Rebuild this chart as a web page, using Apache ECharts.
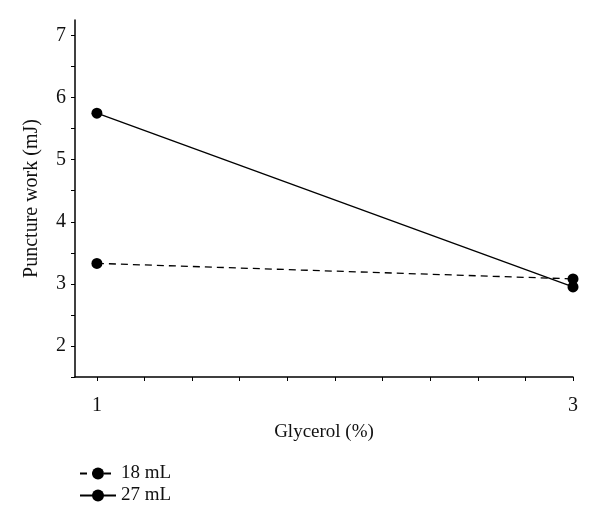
<!DOCTYPE html>
<html>
<head>
<meta charset="utf-8">
<script src="https://cdn.jsdelivr.net/npm/echarts@6/dist/echarts.min.js"></script>
<style>
  html, body { margin: 0; padding: 0; background: #fff; }
  #chart { width: 600px; height: 529px; }
</style>
</head>
<body>
<div id="chart"></div>
<script>
// data
const glycerol = [1, 3];
const ml18 = [3.33, 3.08];
const ml27 = [5.75, 2.95];

const xTicks = [1, 1.2, 1.4, 1.6, 1.8, 2, 2.2, 2.4, 2.6, 2.8, 3];
const xLabels = [1, 3];
const yTicks = [1.5, 2, 2.5, 3, 3.5, 4, 4.5, 5, 5.5, 6, 6.5, 7];
const yLabels = [2, 3, 4, 5, 6, 7];

const font = "'Liberation Serif', 'DejaVu Serif', serif";

const chart = echarts.init(document.getElementById("chart"));

const pairs = (ys) => glycerol.map((x, i) => [x, ys[i]]);

const option = {
  backgroundColor: "#fff",
  animation: false,
  grid: { left: 75, right: 27, top: 20, bottom: 152 },
  legend: {
    orient: "vertical",
    left: 74,
    top: 459,
    itemWidth: 36,
    itemHeight: 15,
    itemGap: 3,
    textStyle: { fontFamily: font, fontSize: 19, color: "#111" },
    data: ["18 mL", "27 mL"],
  },
  xAxis: {
    type: "value",
    min: 0.908,
    max: 3,
    name: "Glycerol (%)",
    nameLocation: "middle",
    nameGap: 46,
    nameTextStyle: { fontFamily: font, fontSize: 19, color: "#111" },
    axisLine: { lineStyle: { color: "#000", width: 1.5 } },
    axisTick: { show: true, length: 4, customValues: xTicks, lineStyle: { color: "#000" } },
    axisLabel: {
      customValues: xLabels,
      margin: 19,
      fontFamily: font,
      fontSize: 20,
      color: "#111",
    },
    splitLine: { show: false },
  },
  yAxis: {
    type: "value",
    min: 1.5,
    max: 7.25,
    name: "Puncture work (mJ)",
    nameLocation: "middle",
    nameGap: 33,
    nameTextStyle: { fontFamily: font, fontSize: 20, color: "#111" },
    axisLine: { show: true, lineStyle: { color: "#000", width: 1.5 } },
    axisTick: { show: true, length: 4, customValues: yTicks, lineStyle: { color: "#000" } },
    axisLabel: {
      customValues: yLabels,
      margin: 9,
      fontFamily: font,
      fontSize: 20,
      color: "#111",
    },
    splitLine: { show: false },
  },
  series: [
    {
      name: "18 mL",
      type: "line",
      data: pairs(ml18),
      symbol: "circle",
      symbolSize: 11,
      lineStyle: { color: "#000", width: 1.3, type: [7, 5] },
      itemStyle: { color: "#000" },
    },
    {
      name: "27 mL",
      type: "line",
      data: pairs(ml27),
      symbol: "circle",
      symbolSize: 11,
      lineStyle: { color: "#000", width: 1.3 },
      itemStyle: { color: "#000" },
    },
  ],
};

chart.setOption(option);
window.addEventListener("resize", () => chart.resize());
</script>
</body>
</html>
